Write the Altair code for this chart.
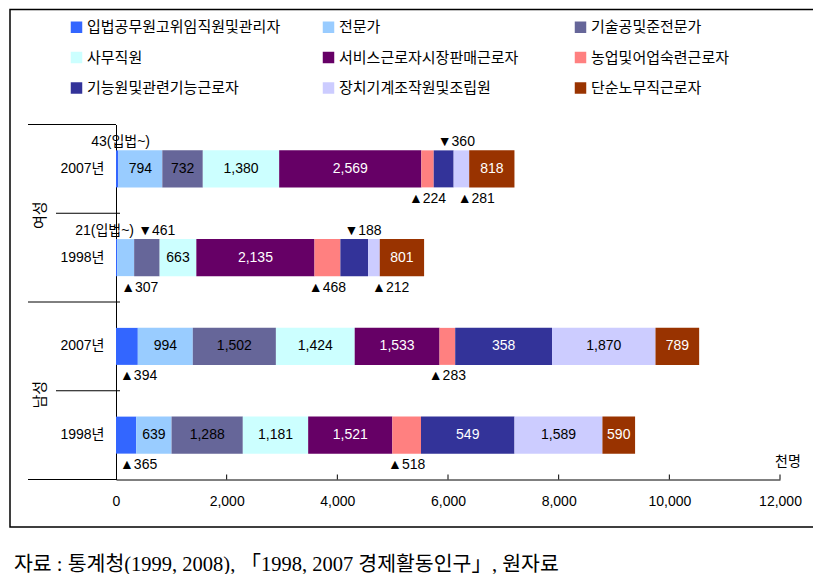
import altair as alt
import pandas as pd

# ---------------- data ----------------
categories = ["입법공무원고위임직원및관리자", "전문가", "기술공및준전문가",
              "사무직원", "서비스근로자시장판매근로자", "농업및어업숙련근로자",
              "기능원및관련기능근로자", "장치기계조작원및조립원", "단순노무직근로자"]
colors = ["#3366FF", "#99CCFF", "#666699", "#CCFFFF", "#660066",
          "#FF8080", "#333399", "#CCCCFF", "#993300"]
dark_categories = ["서비스근로자시장판매근로자", "기능원및관련기능근로자", "단순노무직근로자"]

rows = ["여성|2007년", "여성|1998년", "남성|2007년", "남성|1998년"]

# bar lengths (thousand persons) as drawn in the picture
female_2007 = [43, 794, 732, 1380, 2569, 224, 360, 281, 818]
female_1998 = [21, 307, 461, 663, 2135, 468, 500, 212, 801]
male_2007 = [394, 994, 1502, 1424, 1533, 283, 1750, 1870, 789]
male_1998 = [365, 639, 1288, 1181, 1521, 518, 1690, 1589, 590]

# labels printed inside the bars
female_2007_labels = ["", "794", "732", "1,380", "2,569", "", "", "", "818"]
female_1998_labels = ["", "", "", "663", "2,135", "", "", "", "801"]
male_2007_labels = ["", "994", "1,502", "1,424", "1,533", "", "358", "1,870", "789"]
male_1998_labels = ["", "639", "1,288", "1,181", "1,521", "", "549", "1,589", "590"]

# callouts outside the bars: (row, category index, text, side)
notes = [
    ("여성|2007년", 6, "▼360", "above"),
    ("여성|2007년", 5, "▲224", "below"),
    ("여성|2007년", 7, "▲281", "below"),
    ("여성|1998년", 2, "▼461", "above"),
    ("여성|1998년", 6, "▼188", "above"),
    ("여성|1998년", 1, "▲307", "below"),
    ("여성|1998년", 5, "▲468", "below"),
    ("여성|1998년", 7, "▲212", "below"),
    ("남성|2007년", 0, "▲394", "below"),
    ("남성|2007년", 5, "▲283", "below"),
    ("남성|1998년", 0, "▲365", "below"),
    ("남성|1998년", 5, "▲518", "below"),
]
manager_notes = [("여성|2007년", "43(입법~)"), ("여성|1998년", "21(입법~)")]

x_ticks = [0, 2000, 4000, 6000, 8000, 10000, 12000]
group_labels = ["여성", "남성"]
unit_label = "천명"
source_text = "자료 : 통계청(1999, 2008), 「1998, 2007 경제활동인구」, 원자료"

# ---------------- build tables ----------------
series = [female_2007, female_1998, male_2007, male_1998]
series_labels = [female_2007_labels, female_1998_labels, male_2007_labels, male_1998_labels]
recs = []
for r, vals, labs in zip(rows, series, series_labels):
    acc = 0
    for i, (c, v, l) in enumerate(zip(categories, vals, labs)):
        recs.append({"row": r, "category": c, "idx": i, "value": v,
                     "start": acc, "end": acc + v, "mid": acc + v / 2, "label": l})
        acc += v
bars = pd.DataFrame(recs)
seg = {(d["row"], d["idx"]): d for d in recs}

note_df = pd.DataFrame([
    {"row": r, "text": t, "side": s, "start": seg[(r, i)]["start"],
     "mid": seg[(r, i)]["mid"], "kind": "center" if i == 5 else "left"}
    for r, i, t, s in notes])
mgr_df = pd.DataFrame([{"row": r, "text": t, "x": 0} for r, t in manager_notes])

# ---------------- layout ----------------
W, H = 664, 355
BAND = H / 4
FONT = "Liberation Sans, Noto Sans CJK KR"
KFONT = "Noto Sans CJK KR"
SERIF = "Liberation Serif, Noto Sans CJK KR"

xscale = alt.Scale(domain=[0, 12000], nice=False, zero=True)
yscale = alt.Scale(domain=rows, paddingInner=0.583, paddingOuter=0.2915)

X_AXIS = alt.Axis(values=x_ticks, format=",d", ticks=False, grid=False, title=None,
                  labelPadding=15, labelFlush=False, labelOverlap=False,
                  labelFont=FONT, labelFontSize=14, labelColor="black",
                  domainColor="black", domainWidth=1)
Y_AXIS = alt.Axis(title=None, ticks=False, grid=False,
                  labelExpr="split(datum.value, '|')[1]", labelPadding=12,
                  labelFont=FONT, labelFontSize=14, labelColor="black",
                  domainColor="black", domainWidth=1)


def xenc(field):
    return alt.X(field, scale=xscale, axis=X_AXIS)


Y_ENC = alt.Y("row:N", sort=rows, scale=yscale, axis=Y_AXIS)

bar_layer = alt.Chart(bars).mark_bar(strokeWidth=0).encode(
    x=xenc("start:Q"),
    x2="end:Q",
    y=Y_ENC,
    color=alt.Color("category:N", scale=alt.Scale(domain=categories, range=colors),
                    sort=categories,
                    legend=alt.Legend(title=None, orient="none", legendX=-47, legendY=-105,
                                      direction="horizontal", columns=3,
                                      symbolType="square", symbolSize=132,
                                      symbolStrokeWidth=0, labelFont=KFONT,
                                      labelFontSize=15, labelColor="black",
                                      labelLimit=400, labelOffset=3,
                                      columnPadding=40, rowPadding=14.5,
                                      gridAlign="all", padding=0)),
)

inside_text = alt.Chart(bars).transform_filter("datum.label != ''").mark_text(
    font=FONT, fontSize=14, baseline="middle", align="center").encode(
    x=xenc("mid:Q"),
    y=Y_ENC,
    text="label:N",
    color=alt.condition(
        "indexof(" + str(dark_categories) + ", datum.category) >= 0",
        alt.value("white"), alt.value("black")),
)


def note_layer(kind, side, align, dx, xfield):
    dy = -27 if side == "above" else 30
    return alt.Chart(note_df).transform_filter(
        f"datum.kind == '{kind}' && datum.side == '{side}'").mark_text(
        font=FONT, fontSize=14, baseline="middle", align=align, dx=dx, dy=dy,
        color="black").encode(x=xenc(f"{xfield}:Q"), y=Y_ENC, text="text:N")


notes_layers = [
    note_layer("left", "above", "left", 4, "start"),
    note_layer("left", "below", "left", 4, "start"),
    note_layer("center", "below", "center", 0, "mid"),
]

mgr_layers = []
for r, dx in zip([rows[0], rows[1]], [34, 18]):
    mgr_layers.append(alt.Chart(mgr_df).transform_filter(f"datum.row == '{r}'").mark_text(
        font=FONT, fontSize=14, baseline="middle", align="right", dx=dx, dy=-27,
        color="black").encode(x=xenc("x:Q"), y=Y_ENC, text="text:N"))

tick_layer = alt.Chart(pd.DataFrame({"t": x_ticks[1:]})).mark_rule(
    color="black", strokeWidth=1).encode(
    x=xenc("t:Q"), y=alt.value(H - 5), y2=alt.value(H))

one = pd.DataFrame({"d": [0]})

line_specs = [(-88, 0, 0), (-60, 4, BAND), (-88, 4, 2 * BAND), (-60, 4, 3 * BAND), (-88, 0, H)]
line_layers = [
    alt.Chart(one).mark_rule(color="black", strokeWidth=1).encode(
        x=alt.value(x1), x2=alt.value(x2), y=alt.value(yy))
    for x1, x2, yy in line_specs
]

group_layers = [
    alt.Chart(one).mark_text(text=g, font=KFONT, fontSize=15, angle=270,
                             align="center", baseline="middle", color="black").encode(
        x=alt.value(-76), y=alt.value(yy))
    for g, yy in zip(group_labels, [BAND + 2, 3 * BAND + 4])
]

unit_layer = alt.Chart(one).mark_text(text=unit_label, font=KFONT, fontSize=14,
                                      align="left", baseline="middle",
                                      color="black").encode(
    x=alt.value(W - 5), y=alt.value(H - 18))

frame = alt.Chart(one).mark_rect(fillOpacity=0, stroke="black", strokeWidth=1.5).encode(
    x=alt.value(-106), x2=alt.value(699), y=alt.value(-115), y2=alt.value(402.5))

source = alt.Chart(one).mark_text(text=source_text, font=SERIF, fontSize=20.5,
                                  align="left", baseline="middle", color="black").encode(
    x=alt.value(-102), y=alt.value(440.5))

chart = alt.layer(
    bar_layer, inside_text, *notes_layers, *mgr_layers, tick_layer,
    *line_layers, *group_layers, unit_layer, frame, source
).properties(
    width=W, height=H,
    background="white",
    autosize=alt.AutoSizeParams(type="none"),
    padding={"left": 108, "top": 116.5, "right": 33, "bottom": 94},
).configure_view(stroke=None)

chart.save("out.html", embed_options={"renderer": "svg", "actions": False})
